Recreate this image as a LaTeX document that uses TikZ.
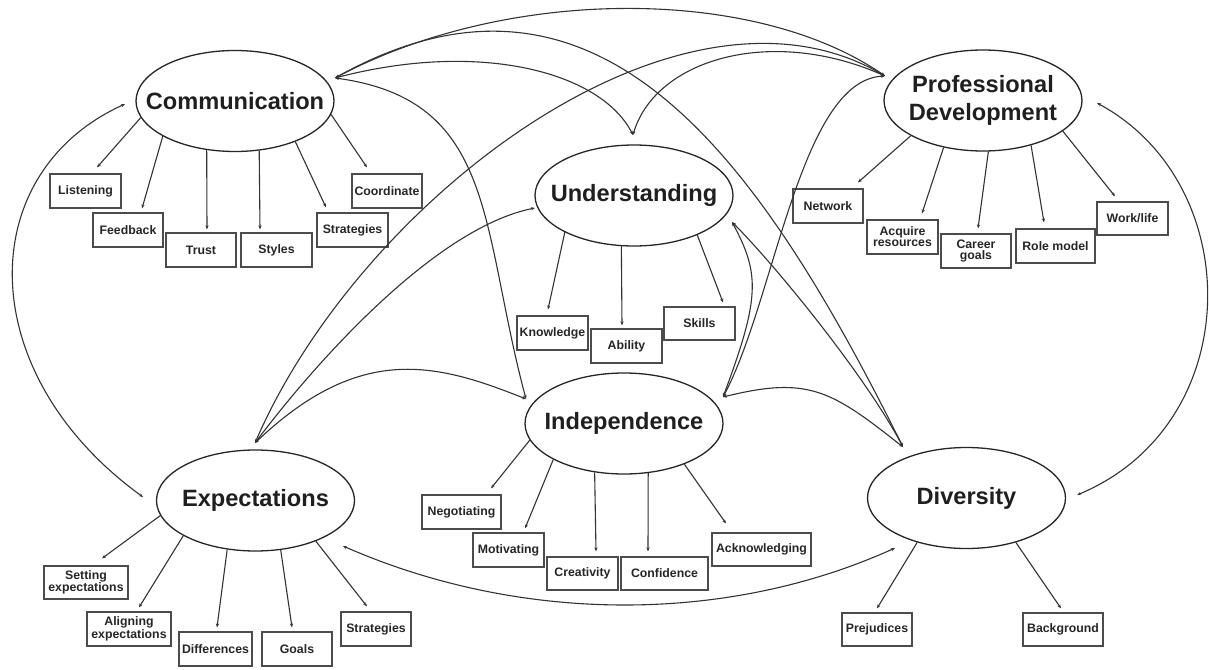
\documentclass[tikz,border=0pt]{standalone}
\usepackage{fontspec}
\setmainfont{Liberation Sans}
\usetikzlibrary{arrows.meta,shapes.geometric}
\begin{document}
\begin{tikzpicture}[x=1pt,y=-1pt,
  main/.style={ellipse, draw=black!85, line width=1.3pt, minimum width=198pt, minimum height=101pt, inner sep=0pt, font=\fontsize{23.6}{28}\selectfont\bfseries, text=black!88},
  leaf/.style={rectangle, draw=black!70, line width=1.2pt, minimum height=34pt, inner sep=0pt, align=center, font=\fontsize{12.3}{10.8}\selectfont\bfseries, text=black!85},
  child/.style={draw=black!80, line width=1.1pt, -{Stealth[length=4pt,width=3.2pt]}},
  link/.style={draw=black!80, line width=1.1pt, {Stealth[length=4pt,width=3.2pt]}-{Stealth[length=4pt,width=3.2pt]}}
]
\useasboundingbox (0,0) rectangle (1209,669);

% main concepts
\node[main] (com) at (235,101) {\makebox[0pt]{Communication}};
\node[main] (pd)  at (983,100.5) {\makebox[0pt]{\begin{tabular}{@{}c@{}}Professional\\Development\end{tabular}}};
\node[main] (und) at (634,195.5) {\makebox[0pt]{Understanding}};
\node[main] (ind) at (624,423.5) {\makebox[0pt]{Independence}};
\node[main] (exp) at (255.5,500.5) {\makebox[0pt]{Expectations}};
\node[main] (div) at (966.5,498) {\makebox[0pt]{Diversity}};

% Communication boxes
\node[leaf, minimum width=71pt] (lis) at (85.5,191) {Listening};
\node[leaf, minimum width=70pt] (feed) at (128,230) {Feedback};
\node[leaf, minimum width=70pt] (trust) at (201,250) {Trust};
\node[leaf, minimum width=71pt] (styles) at (276.5,250) {Styles};
\node[leaf, minimum width=71pt] (strA) at (352.5,230) {Strategies};
\node[leaf, minimum width=70pt] (coord) at (387,191) {Coordinate};

% Professional development boxes
\node[leaf, minimum width=70pt] (net) at (828,206) {Network};
\node[leaf, minimum width=71pt] (acq) at (902.5,237) {Acquire\\resources};
\node[leaf, minimum width=70pt] (career) at (976,251) {Career\\goals};
\node[leaf, minimum width=79pt] (role) at (1055.5,246) {Role model};
\node[leaf, minimum width=71pt, minimum height=33pt] (work) at (1132.5,218.5) {Work/life};

% Understanding boxes
\node[leaf, minimum width=71pt] (know) at (552.5,333) {Knowledge};
\node[leaf, minimum width=71pt] (abil) at (626.5,346) {Ability};
\node[leaf, minimum width=71pt, minimum height=33pt] (skills) at (699.5,323.5) {Skills};

% Independence boxes
\node[leaf, minimum width=79pt] (nego) at (461.5,512) {Negotiating};
\node[leaf, minimum width=71pt] (moti) at (508.5,550) {Motivating};
\node[leaf, minimum width=71pt, minimum height=33pt] (crea) at (582.5,573.5) {Creativity};
\node[leaf, minimum width=87pt, minimum height=33pt] (conf) at (664.5,573.5) {Confidence};
\node[leaf, minimum width=99pt, minimum height=33pt] (ackn) at (761.5,549.5) {Acknowledging};

% Expectations boxes
\node[leaf, minimum width=84pt, minimum height=33pt] (sett) at (86,582.5) {Setting\\expectations};
\node[leaf, minimum width=84pt] (alig) at (129,629) {Aligning\\expectations};
\node[leaf, minimum width=73pt] (diff) at (215.5,649) {Differences};
\node[leaf, minimum width=70pt] (goals) at (297,649) {Goals};
\node[leaf, minimum width=70pt] (strB) at (376,629) {Strategies};

% Diversity boxes
\node[leaf, minimum width=70pt, minimum height=33pt] (prej) at (877,629.5) {Prejudices};
\node[leaf, minimum width=80pt, minimum height=33pt] (back) at (1063,629.5) {Background};

% child arrows
\draw[child] (com.190) -- ([xshift=11.5pt,yshift=6pt]lis.north);
\draw[child] (com.206.9) -- ([xshift=14pt,yshift=4pt]feed.north);
\draw[child] (com.240.2) -- ([xshift=6pt,yshift=3pt]trust.north);
\draw[child] (com.296.9) -- ([xshift=-16.5pt,yshift=3pt]styles.north);
\draw[child] (com.326.1) -- ([xshift=-26.5pt,yshift=5pt]strA.north);
\draw[child] (com.352.9) -- ([xshift=-20pt,yshift=6pt]coord.north);

\draw[child] (pd.206.9) -- ([xshift=30pt,yshift=6pt]net.north);
\draw[child] (pd.230.5) -- ([xshift=19.5pt,yshift=6pt]acq.north);
\draw[child] (pd.276.9) -- ([xshift=2pt,yshift=5pt]career.north);
\draw[child] (pd.317.1) -- ([xshift=-11.5pt,yshift=6pt]role.north);
\draw[child] (pd.339.8) -- ([xshift=-17.5pt,yshift=5pt]work.north);

\draw[child] (und.208.2) -- ([xshift=-4.5pt,yshift=6pt]know.north);
\draw[child] (und.256.5) -- ([xshift=-4.5pt,yshift=3pt]abil.north);
\draw[child] (und.328.7) -- ([xshift=23.5pt,yshift=4pt]skills.north);

\draw[child] (ind.190.9) -- ([xshift=29.5pt,yshift=6pt]nego.north);
\draw[child] (ind.207.8) -- ([xshift=16.5pt,yshift=4pt]moti.north);
\draw[child] (ind.239.9) -- ([xshift=13.5pt,yshift=5pt]crea.north);
\draw[child] (ind.296.1) -- ([xshift=-16.5pt,yshift=5pt]conf.north);
\draw[child] (ind.326.4) -- ([xshift=-35.5pt,yshift=9pt]ackn.north);

\draw[child] (exp.189.7) -- ([xshift=16pt,yshift=7pt]sett.north);
\draw[child] (exp.206.4) -- ([xshift=10pt,yshift=4pt]alig.north);
\draw[child] (exp.240.9) -- ([xshift=1.5pt,yshift=4pt]diff.north);
\draw[child] (exp.297.3) -- ([xshift=-5pt,yshift=4pt]goals.north);
\draw[child] (exp.326.6) -- ([xshift=-9pt,yshift=5pt]strB.north);

\draw[child] (div.222.3) -- ([yshift=4pt]prej.north);
\draw[child] (div.318.3) -- ([xshift=-2pt,yshift=4pt]back.north);

% attachment points of the links between concepts
\coordinate (comL) at (125,104);
\coordinate (comR) at (335,78);
\coordinate (pdL) at (885,76);
\coordinate (pdR) at (1097,103);
\coordinate (undT) at (633,135);
\coordinate (undL) at (535,208);
\coordinate (undR) at (732,222);
\coordinate (indL) at (526,399);
\coordinate (indR) at (723,397);
\coordinate (expT) at (255,443);
\coordinate (expL) at (143,497);
\coordinate (expR) at (343,546);
\coordinate (divT) at (903,447);
\coordinate (divR) at (1077,495);
\coordinate (divB) at (895,548);

% links
\draw[link] (comL) .. controls (-27,173) and (-28,373) .. (expL);
\draw[link] (comR) .. controls (508,-14) and (755,-14) .. (pdL);
\draw[link] (comR) .. controls (600,-70) and (760,160) .. (divT);
\draw[link] (comR) .. controls (480,40) and (601,72) .. (undT);
\draw[link] (comR) .. controls (497,100) and (480,227) .. (indL);
\draw[link] (pdL) .. controls (770,25) and (655,60) .. (undT);
\draw[link] (pdL) .. controls (680,-45) and (360,200) .. (expT);
\draw[link] (pdL) .. controls (800,80) and (775,300) .. (indR);
\draw[link] (pdR) .. controls (1247,184) and (1247,424) .. (divR);
\draw[link] (expT) .. controls (315,363) and (435,228) .. (undL);
\draw[link] (expT) .. controls (360,343) and (436,363) .. (indL);
\draw[link] (expR) .. controls (521,624) and (727,624) .. (divB);
\draw[link] (undR) .. controls (760,274) and (760,298) .. (indR);
\draw[link] (undR) .. controls (775,265) and (865,375) .. (divT);
\draw[link] (indR) .. controls (808,376) and (831,390) .. (divT);
\end{tikzpicture}
\end{document}
